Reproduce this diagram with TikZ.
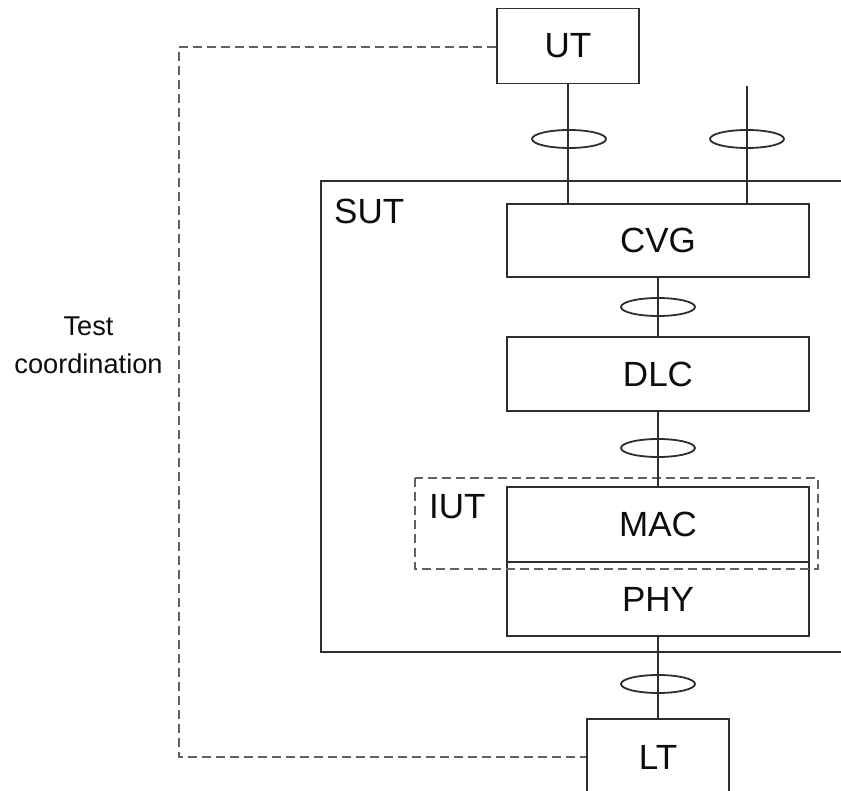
\documentclass[tikz,border=0pt]{standalone}
\usepackage{fontspec}
\setmainfont{Liberation Sans}
\usetikzlibrary{shapes.geometric}
\begin{document}
\begin{tikzpicture}[x=1pt,y=-1pt,
    line join=miter,
    solidline/.style={draw=black!82, line width=1.8pt},
    dashline/.style={draw=black!62, line width=1.8pt, dash pattern=on 9pt off 5pt},
    layerbox/.style={solidline, rectangle, inner sep=0pt, minimum width=302pt,
        font=\fontsize{35}{40}\selectfont, text=black!95},
    testerbox/.style={solidline, rectangle, inner sep=0pt, minimum width=142pt,
        font=\fontsize{35}{40}\selectfont, text=black!95},
    sap/.style={solidline, ellipse, minimum width=74pt, minimum height=18pt, inner sep=0pt},
    tag/.style={font=\fontsize{35}{40}\selectfont, text=black!95, inner sep=0pt, anchor=base west},
]
\useasboundingbox (0,0) rectangle (841,791);
\begin{scope}
\clip (0,0) rectangle (841,791);

% system under test
\draw[solidline] (860,181) -- (321,181) -- (321,652) -- (860,652);
\node[tag] (sut) at (334,224) {SUT};

% protocol stack
\node[layerbox, minimum height=73pt] (cvg) at (658,240.5) {CVG};
\node[layerbox, minimum height=74pt] (dlc) at (658,374) {DLC};
\node[layerbox, minimum height=75pt] (mac) at (658,524.5) {MAC};
\node[layerbox, minimum height=74pt] (phy) at (658,599) {PHY};

% implementation under test
\draw[dashline] (415,478) rectangle (818,569);
\node[tag] (iut) at (429,518) {IUT};

% testers
\node[testerbox, minimum height=75pt] (ut) at (568,46) {UT};
\node[testerbox, minimum height=110pt, anchor=north] (lt) at (658,718) {};
\node[font=\fontsize{35}{40}\selectfont, text=black!95, inner sep=0pt] (ltlabel) at (658,757) {LT};

% service access points
\coordinate (upper) at (747,86);
\draw[solidline] (ut.south) -- (ut.south |- cvg.north);
\draw[solidline] (upper) -- (upper |- cvg.north);
\draw[solidline] (cvg.south) -- (dlc.north);
\draw[solidline] (dlc.south) -- (mac.north);
\draw[solidline] (phy.south) -- (lt.north);
\node[sap] (sap1) at (569,139) {};
\node[sap] (sap2) at (747,139) {};
\node[sap] (sap3) at (658,307) {};
\node[sap] (sap4) at (658,448) {};
\node[sap] (sap5) at (658,684) {};

% test coordination procedures
\coordinate (tcTop) at (179,47);
\coordinate (tcBot) at (179,757);
\draw[dashline] (ut.west |- tcTop) -- (tcTop) -- (tcBot) -- (lt.west |- tcBot);
\node[font=\fontsize{27.2}{38}\selectfont, text=black!95, align=center, inner sep=0pt,
      anchor=base] (tc) at (88.5,374) {Test\\coordination};
\end{scope}
\end{tikzpicture}
\end{document}
